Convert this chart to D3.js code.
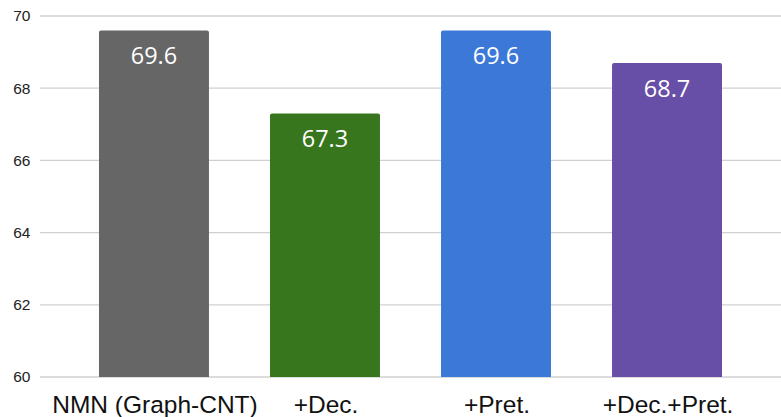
<!DOCTYPE html>
<html>
<head>
<meta charset="utf-8">
<script src="https://cdn.jsdelivr.net/npm/d3@7"></script>
<style>
  html, body { margin: 0; padding: 0; background: #fff; }
  svg { display: block; }
</style>
</head>
<body>
<svg id="chart" width="781" height="417"></svg>
<script>
const categories = ["NMN (Graph-CNT)", "+Dec.", "+Pret.", "+Dec.+Pret."];
const values = [69.6, 67.3, 69.6, 68.7];
const colors = ["#666666", "#38761d", "#3c78d8", "#674ea7"];
const yTicks = [60, 62, 64, 66, 68, 70];

const W = 781, H = 417;
const svg = d3.select("#chart");

const x = d3.scaleBand()
  .domain(categories)
  .range([40, 781])
  .paddingInner(0.357)
  .paddingOuter(0.345);

const y = d3.scaleLinear()
  .domain([60, 70])
  .range([377, 16]);

// horizontal gridlines
svg.append("g")
  .selectAll("line")
  .data(yTicks)
  .join("line")
  .attr("x1", 40)
  .attr("x2", W)
  .attr("y1", d => y(d))
  .attr("y2", d => y(d))
  .attr("stroke", "#d0d0d0")
  .attr("stroke-width", 1.3);

// y-axis tick labels
svg.append("g")
  .selectAll("text")
  .data(yTicks)
  .join("text")
  .attr("x", 30.5)
  .attr("y", d => y(d))
  .attr("dy", "0.35em")
  .attr("text-anchor", "end")
  .attr("font-family", "Liberation Sans, Arial, sans-serif")
  .attr("font-size", 15.5)
  .attr("fill", "#222")
  .text(d => d);

// bars with slightly rounded top corners
const r = 2;
svg.append("g")
  .selectAll("path")
  .data(values)
  .join("path")
  .attr("fill", (d, i) => colors[i])
  .attr("d", (d, i) => {
    const x0 = x(categories[i]), x1 = x0 + x.bandwidth();
    const yt = y(d), yb = y(60);
    return `M${x0},${yb}V${yt + r}Q${x0},${yt} ${x0 + r},${yt}H${x1 - r}Q${x1},${yt} ${x1},${yt + r}V${yb}Z`;
  });

// value labels inside bars
svg.append("g")
  .selectAll("text")
  .data(values)
  .join("text")
  .attr("x", (d, i) => x(categories[i]) + x.bandwidth() / 2)
  .attr("y", d => y(d) + 34)
  .attr("text-anchor", "middle")
  .attr("font-family", "Open Sans, Noto Sans, sans-serif")
  .attr("font-size", 23.5)
  .attr("fill", "#ffffff")
  .text(d => d.toFixed(1));

// category labels
svg.append("g")
  .selectAll("text")
  .data(categories)
  .join("text")
  .attr("x", d => x(d) + x.bandwidth() / 2 + 1)
  .attr("y", 413)
  .attr("text-anchor", "middle")
  .attr("font-family", "Liberation Sans, Arial, sans-serif")
  .attr("font-size", 24.5)
  .attr("fill", "#111")
  .text(d => d);
</script>
</body>
</html>
